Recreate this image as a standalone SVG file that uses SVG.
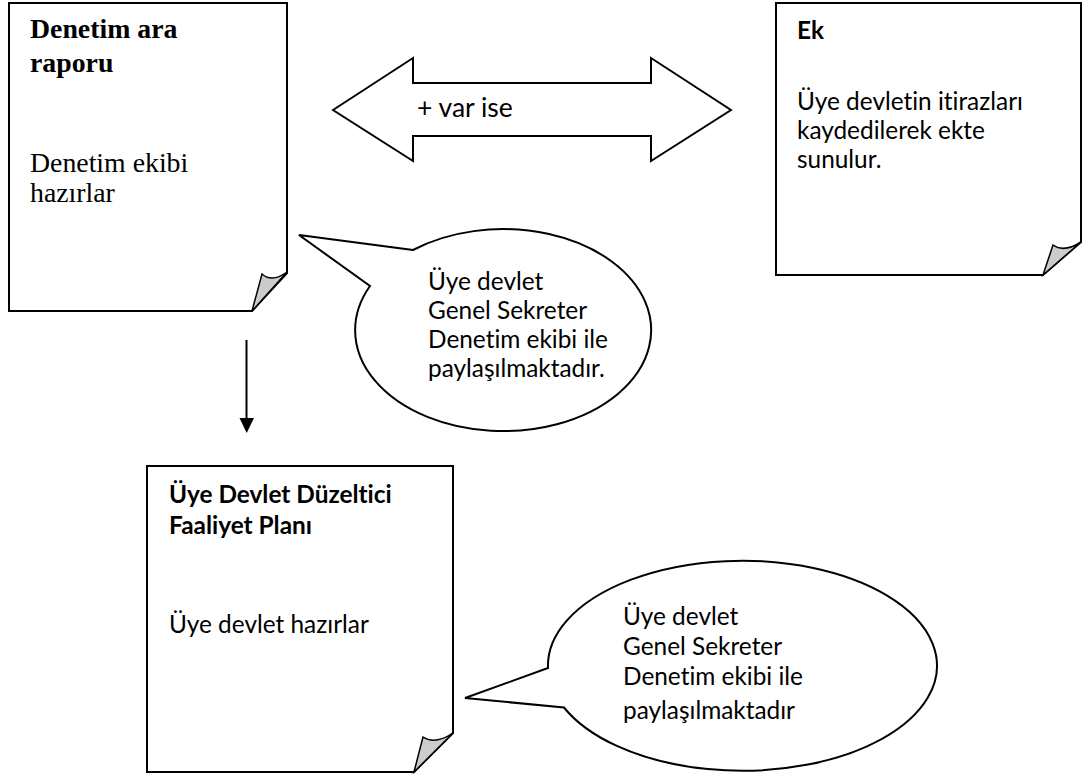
<svg xmlns="http://www.w3.org/2000/svg" width="1083" height="779" viewBox="0 0 1083 779">
<style>
.sh{fill:#fff;stroke:#000;stroke-width:2;stroke-linejoin:miter}
.fold{fill:#cccccc;stroke:#000;stroke-width:1.5;stroke-linejoin:miter}
.tb{font-family:"Liberation Serif",serif;font-size:27.8px;fill:#000}
.c{font-family:Lato,"Liberation Sans",sans-serif;font-size:24.4px;fill:#000;font-variant-ligatures:none}
.b{font-weight:bold}
</style>
<rect width="1083" height="779" fill="#fff"/>
<g id="connectors">
<path class="sh" d="M333,110 L413,58 L413,83 L651,83 L651,58 L731,110 L651,161 L651,136 L413,136 L413,161 Z"/>
<text class="c" x="417" y="117" style="font-size:26.5px">+ var ise</text>
<line x1="246.5" y1="340" x2="246.5" y2="420" stroke="#000" stroke-width="2"/>
<polygon points="239.5,418 254,418 246.7,433" fill="#000"/>
</g>
<g id="node-denetim-ara-raporu">
<path class="sh" d="M9,3 H287 V273 L252,311 H9 Z"/>
<path class="fold" d="M252,311 L262,274 Q272,283 287,272 Z"/>
<text class="tb b" x="30" y="38">Denetim ara</text>
<text class="tb b" x="30" y="72">raporu</text>
<text class="tb" x="30" y="172">Denetim ekibi</text>
<text class="tb" x="30" y="202">hazırlar</text>
</g>
<g id="node-ek">
<path class="sh" d="M776,3 H1081 V242 L1043,275 H776 Z"/>
<path class="fold" d="M1043,275 L1053,245 Q1064,253 1081,242 Z"/>
<text class="c b" x="797" y="39">Ek</text>
<text class="c" x="797" y="110">Üye devletin itirazları</text>
<text class="c" x="797" y="139">kaydedilerek ekte</text>
<text class="c" x="797" y="168">sunulur.</text>
</g>
<g id="node-callout-1">
<path class="sh" d="M413,250 L299,235 L370,286 A148 101 0 1 0 413,250 Z"/>
<text class="c" x="428" y="290">Üye devlet</text>
<text class="c" x="428" y="319">Genel Sekreter</text>
<text class="c" x="428" y="348">Denetim ekibi ile</text>
<text class="c" x="428" y="377">paylaşılmaktadır.</text>
</g>
<g id="node-duzeltici-plan">
<path class="sh" d="M147,466 H453 V733 L414,772 H147 Z"/>
<path class="fold" d="M414,772 L423,737 Q435,745 453,733 Z"/>
<text class="c b" x="169" y="503">Üye Devlet Düzeltici</text>
<text class="c b" x="169" y="534">Faaliyet Planı</text>
<text class="c" x="169" y="633">Üye devlet hazırlar</text>
</g>
<g id="node-callout-2">
<path class="sh" d="M548,668 L465,698 L564,707.5 A194.5 105 0 1 0 548,668 Z"/>
<text class="c" x="623" y="625">Üye devlet</text>
<text class="c" x="623" y="655">Genel Sekreter</text>
<text class="c" x="623" y="685">Denetim ekibi ile</text>
<text class="c" x="623" y="719">paylaşılmaktadır</text>
</g>
</svg>
